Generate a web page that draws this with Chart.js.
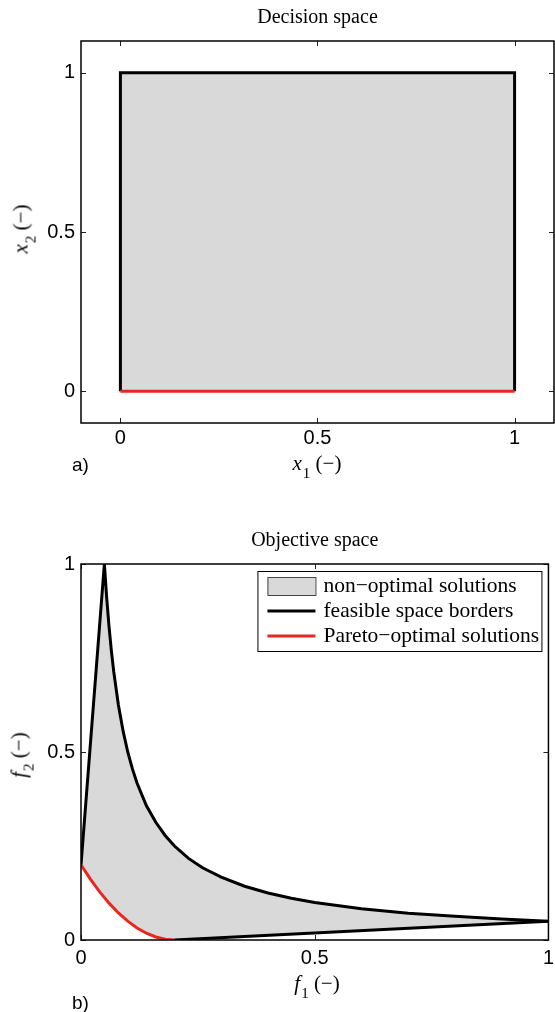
<!DOCTYPE html>
<html>
<head>
<meta charset="utf-8">
<script src="https://cdn.jsdelivr.net/npm/chart.js@4.4.1/dist/chart.umd.min.js"></script>
<style>
  html, body { margin: 0; padding: 0; overflow: hidden; background: #fff; }
  #page { position: relative; width: 555px; height: 1012px; overflow: hidden; }
  canvas { position: absolute; left: 0; }
  #c1 { top: 0; }
  #c2 { top: 480px; }
  .lbl { position: absolute; font-family: 'Liberation Serif', serif; font-size: 21px; color: #000;
         white-space: nowrap; line-height: 1; transform: translate(-50%, -50%); }
  .lbl i { font-style: italic; }
  .lbl sub { font-size: 15px; vertical-align: baseline; position: relative; top: 0.5em; margin-left: 1px; }
  .rot { transform: translate(-50%, -50%) rotate(-90deg); }
  .panel { position: absolute; font-family: 'Liberation Sans', sans-serif; font-size: 19px; line-height: 1; color: #000; }
</style>
</head>
<body>
<div id="page">
  <canvas id="c1" width="555" height="480"></canvas>
  <canvas id="c2" width="560" height="532"></canvas>
  <div class="lbl" style="left:317px; top:463px;"><i>x</i><sub>1</sub> (−)</div>
  <div class="lbl rot" style="left:21px; top:229px;"><i>x</i><sub>2</sub> (−)</div>
  <div class="lbl" style="left:317px; top:983px;"><i>f</i><sub>1</sub> (−)</div>
  <div class="lbl rot" style="left:19px; top:755px;"><i>f</i><sub>2</sub> (−)</div>
  <div class="panel" style="left:72px; top:455px;">a)</div>
  <div class="panel" style="left:72px; top:993px;">b)</div>
</div>
<script>
// decision space (x1, x2)
const decTicks = [0, 0.5, 1];
const borderX1 = [0, 0, 1, 1];
const borderX2 = [0, 1, 1, 0];
const decParetoX1 = [0, 1];
const decParetoX2 = [0, 0];

// objective space (f1, f2)
const objTicks = [0, 0.5, 1];
const upperF1 = [0, 0.05, 0.055, 0.06, 0.065, 0.07, 0.08, 0.09, 0.10, 0.11, 0.12, 0.14, 0.16, 0.18,
                 0.20, 0.23, 0.26, 0.30, 0.35, 0.40, 0.45, 0.50, 0.60, 0.70, 0.80, 0.90, 1.00];
const upperF2 = [0.2, 1.0, 0.909, 0.833, 0.769, 0.714, 0.625, 0.556, 0.50, 0.455, 0.417, 0.357, 0.313, 0.278,
                 0.25, 0.217, 0.192, 0.167, 0.143, 0.125, 0.111, 0.10, 0.083, 0.071, 0.063, 0.056, 0.05];
const lowerF1 = [0.2, 1.0];
const lowerF2 = [0, 0.05];
const paretoF1 = [0, 0.02, 0.04, 0.06, 0.08, 0.10, 0.12, 0.14, 0.16, 0.18, 0.20];
const paretoF2 = [0.2, 0.162, 0.128, 0.098, 0.072, 0.05, 0.032, 0.018, 0.008, 0.002, 0];

const legendLabels = ['non−optimal solutions', 'feasible space borders', 'Pareto−optimal solutions'];

const GRAY = 'rgb(217,217,217)';
const RED = 'rgb(232,40,30)';
const tickFont = { family: 'Liberation Sans', size: 20 };
const titleFont = { family: 'Liberation Serif', size: 20, weight: 'normal', lineHeight: 1.2 };

const pts = (xs, ys) => xs.map((v, i) => ({ x: v, y: ys[i] }));

function axis(min, max, tickVals, fit, pad) {
  return {
    type: 'linear', min: min, max: max,
    afterBuildTicks: s => { s.ticks = tickVals.map(v => ({ value: v })); },
    afterFit: fit,
    grid: { display: false, drawTicks: false },
    border: { display: false },
    ticks: { font: tickFont, color: '#000', padding: pad, maxRotation: 0, autoSkip: false,
             callback: v => String(v) }
  };
}

// box round the axes with inward tick marks, as in the original
const frame = {
  id: 'frame',
  afterDraw(chart) {
    const { ctx, chartArea: a, scales: { x, y } } = chart;
    ctx.save();
    ctx.strokeStyle = '#222';
    ctx.lineWidth = 1;
    ctx.beginPath();
    x.ticks.forEach(t => {
      const px = Math.round(x.getPixelForValue(t.value)) + 0.5;
      ctx.moveTo(px, a.bottom); ctx.lineTo(px, a.bottom - 5);
      ctx.moveTo(px, a.top); ctx.lineTo(px, a.top + 5);
    });
    y.ticks.forEach(t => {
      const py = Math.round(y.getPixelForValue(t.value)) + 0.5;
      ctx.moveTo(a.left, py); ctx.lineTo(a.left + 5, py);
      ctx.moveTo(a.right, py); ctx.lineTo(a.right - 5, py);
    });
    ctx.stroke();
    ctx.strokeStyle = '#000';
    ctx.lineWidth = 1.5;
    ctx.strokeRect(a.left, a.top, a.width, a.height);
    ctx.restore();
  }
};

// legend box in the upper right corner of the objective plot
const boxLegend = {
  id: 'boxLegend',
  afterDraw(chart) {
    const { ctx, chartArea: a } = chart;
    const w = 284, h = 80;
    const left = a.right - 7 - w, top = a.top + 7;
    ctx.save();
    ctx.fillStyle = '#fff';
    ctx.fillRect(left, top, w, h);
    ctx.strokeStyle = '#000';
    ctx.lineWidth = 1;
    ctx.strokeRect(left + 0.5, top + 0.5, w, h);
    const sx = left + 10, sw = 48;
    const rows = [top + 15, top + 40, top + 65];
    ctx.fillStyle = GRAY;
    ctx.fillRect(sx, rows[0] - 9, sw, 18);
    ctx.strokeStyle = '#444';
    ctx.strokeRect(sx + 0.5, rows[0] - 8.5, sw, 18);
    ctx.lineWidth = 3;
    ctx.strokeStyle = '#000';
    ctx.beginPath(); ctx.moveTo(sx, rows[1]); ctx.lineTo(sx + sw, rows[1]); ctx.stroke();
    ctx.strokeStyle = RED;
    ctx.beginPath(); ctx.moveTo(sx, rows[2]); ctx.lineTo(sx + sw, rows[2]); ctx.stroke();
    ctx.fillStyle = '#000';
    ctx.font = '21.5px "Liberation Serif"';
    ctx.textBaseline = 'middle';
    ctx.textAlign = 'left';
    legendLabels.forEach((t, i) => ctx.fillText(t, sx + sw + 8, rows[i]));
    ctx.restore();
  }
};

const common = {
  animation: false, responsive: false, events: [],
  elements: { point: { radius: 0 }, line: { tension: 0, borderCapStyle: 'butt' } }
};

new Chart(document.getElementById('c1'), {
  type: 'scatter',
  data: {
    datasets: [
      { data: pts(decParetoX1, decParetoX2), showLine: true, borderColor: RED, borderWidth: 3 },
      { data: pts(borderX1, borderX2), showLine: true, borderColor: '#000', borderWidth: 3,
        fill: 'origin', backgroundColor: GRAY }
    ]
  },
  options: Object.assign({}, common, {
    layout: { padding: { left: 0, right: 1, top: 0, bottom: 0 } },
    plugins: {
      legend: { display: false }, tooltip: { enabled: false },
      title: { display: true, fullSize: false, text: 'Decision space', color: '#000', font: titleFont,
               padding: { top: 6, bottom: 11 } }
    },
    scales: {
      x: axis(-0.1, 1.1, decTicks, s => { s.height = 57; }, 3),
      y: axis(-0.1, 1.1, decTicks, s => { s.width = 81; }, 6)
    }
  }),
  plugins: [frame]
});

new Chart(document.getElementById('c2'), {
  type: 'scatter',
  data: {
    datasets: [
      { data: pts(paretoF1, paretoF2), showLine: true, borderColor: RED, borderWidth: 3 },
      { data: pts(lowerF1, lowerF2), showLine: true, borderColor: '#000', borderWidth: 3 },
      { data: pts(upperF1, upperF2), showLine: true, borderColor: '#000', borderWidth: 3 },
      { data: pts(paretoF1.concat(lowerF1.slice(1)), paretoF2.concat(lowerF2.slice(1))),
        showLine: true, borderColor: 'rgba(0,0,0,0)', borderWidth: 1 },
      { data: pts(upperF1, upperF2), showLine: true, borderColor: 'rgba(0,0,0,0)', borderWidth: 1,
        fill: 3, backgroundColor: GRAY }
    ]
  },
  options: Object.assign({}, common, {
    layout: { padding: { left: 0, right: 7, top: 0, bottom: 0 } },
    plugins: {
      legend: { display: false }, tooltip: { enabled: false },
      filler: { propagate: false },
      title: { display: true, fullSize: false, text: 'Objective space', color: '#000', font: titleFont,
               padding: { top: 49, bottom: 11 } }
    },
    scales: {
      x: axis(0, 1, objTicks, s => { s.height = 72; }, 6),
      y: axis(0, 1, objTicks, s => { s.width = 81; }, 6)
    }
  }),
  plugins: [frame, boxLegend]
});
</script>
</body>
</html>
